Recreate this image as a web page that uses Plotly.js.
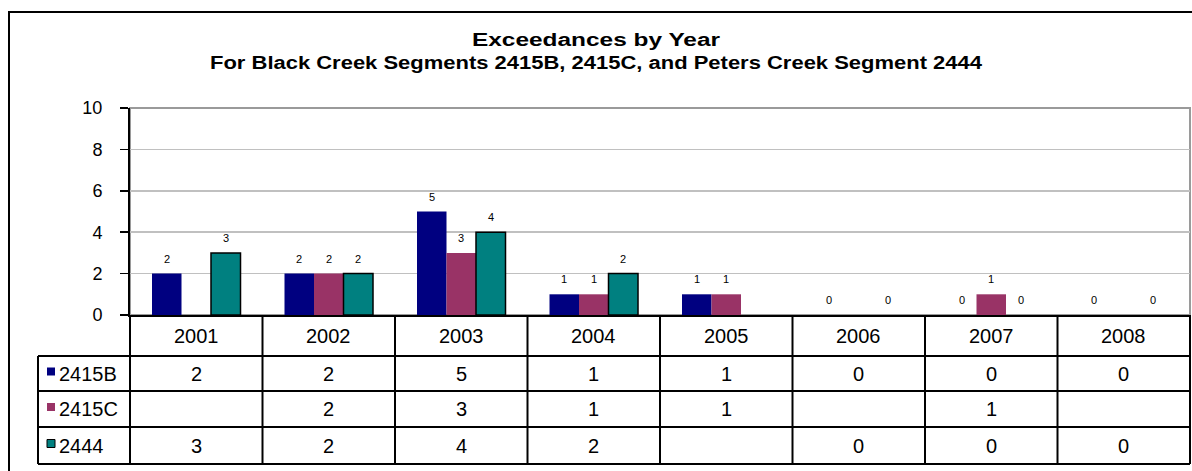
<!DOCTYPE html>
<html>
<head>
<meta charset="utf-8">
<script src="https://cdn.plot.ly/plotly-3.0.1.min.js"></script>
<style>html,body{margin:0;padding:0;background:#fff;}#chart{width:1192px;height:471px;}</style>
</head>
<body>
<div id="chart"></div>
<script>
// ---- data ----
var years = ["2001", "2002", "2003", "2004", "2005", "2006", "2007", "2008"];
var seriesNames = ["2415B", "2415C", "2444"];
var s2415B = [2, 2, 5, 1, 1, 0, 0, 0];
var s2415C = [null, 2, 3, 1, 1, null, 1, null];
var s2444 = [3, 2, 4, 2, null, 0, 0, 0];
var titleLine1 = "Exceedances by Year";
var titleLine2 = "For Black Creek Segments 2415B, 2415C, and Peters Creek Segment 2444";

// ---- styling / layout ----
var colors = ["#000080", "#993366", "#008080"];
var lineW = [0, 0, 1.5];
var allSeries = [s2415B, s2415C, s2444];
var W = 1192, H = 471;
var mL = 130, mR = 2, mT = 108, mB = 156;
var plotH = H - mT - mB, plotW = W - mL - mR;
var FONT = "Liberation Sans, Arial, sans-serif";
var bargap = 0.332;
var titleWidths = [248, 772];

function py(p) { return (H - mB - p) / plotH; }   // pixel y -> paper y
function px(p) { return (p - mL) / plotW; }       // pixel x -> paper x

var traces = allSeries.map(function (vals, s) {
  return {
    type: "bar", name: seriesNames[s], x: years, y: vals,
    marker: { color: colors[s], line: { color: "#000",
      width: vals.map(function (v) { return v ? lineW[s] : 0; }) } },
    hoverinfo: "x+y+name", showlegend: false
  };
});

var shapes = [];
var annotations = [];

// plot-area grey border
shapes.push({ type: "rect", xref: "paper", yref: "paper", x0: 0, x1: 1, y0: 0, y1: 1,
  line: { color: "#9a9a9a", width: 2 }, layer: "below" });
// outer chart border
shapes.push({ type: "rect", xref: "paper", yref: "paper", x0: px(9), x1: px(1260), y0: py(12), y1: py(520),
  line: { color: "#000", width: 2 } });

// data labels
var w = (1 - bargap) / 3;
allSeries.forEach(function (vals, s) {
  vals.forEach(function (v, i) {
    if (v === null) return;
    annotations.push({ xref: "x", yref: "y", x: i + (s - 1) * w, y: v, text: String(v),
      showarrow: false, yanchor: "bottom", yshift: 7, font: { family: FONT, size: 11, color: "#000" } });
  });
});

// data table
var rowEdges = [315, 356, 391, 427, 464];
var tblLeft = 38;
var tl = { color: "#000", width: 2 };
for (var r = 1; r < rowEdges.length; r++) {
  shapes.push({ type: "line", xref: "paper", yref: "paper", x0: px(tblLeft), x1: 1, y0: py(rowEdges[r]), y1: py(rowEdges[r]), line: tl });
}
shapes.push({ type: "line", xref: "paper", yref: "paper", x0: px(tblLeft), x1: px(tblLeft), y0: py(rowEdges[1]), y1: py(rowEdges[4]), line: tl });
for (var k = 0; k <= years.length; k++) {
  shapes.push({ type: "line", xref: "paper", yref: "paper", x0: k / years.length, x1: k / years.length,
    y0: py(rowEdges[0]), y1: py(rowEdges[4]), line: tl });
}
var tfont = { family: FONT, size: 20, color: "#000" };
years.forEach(function (yr, i) {
  annotations.push({ xref: "x", yref: "paper", x: i, y: py((rowEdges[0] + rowEdges[1]) / 2), text: yr,
    showarrow: false, font: tfont, yanchor: "middle" });
});
allSeries.forEach(function (vals, s) {
  var ycPix = (rowEdges[s + 1] + rowEdges[s + 2]) / 2;
  var yc = py(ycPix);
  vals.forEach(function (v, i) {
    if (v === null) return;
    annotations.push({ xref: "x", yref: "paper", x: i, y: yc, text: String(v), showarrow: false, font: tfont, yanchor: "middle" });
  });
  annotations.push({ xref: "paper", yref: "paper", x: px(57), y: yc, text: seriesNames[s], showarrow: false,
    xanchor: "left", yanchor: "middle", font: tfont });
  shapes.push({ type: "rect", xref: "paper", yref: "paper", x0: px(47), x1: px(55), y0: py(ycPix - 6), y1: py(ycPix + 2),
    fillcolor: colors[s], line: { color: "#000", width: lineW[s] ? 1 : 0 } });
});

var layout = {
  width: W, height: H,
  margin: { l: mL, r: mR, t: mT, b: mB, pad: 0 },
  paper_bgcolor: "#fff", plot_bgcolor: "#fff",
  font: { family: FONT, color: "#000" },
  title: { text: "<b>" + titleLine1 + "<br>" + titleLine2 + "</b>", x: 0.5, xanchor: "center", xref: "container",
    y: 1 - 46 / H, yref: "container", yanchor: "middle", font: { family: FONT, size: 18, color: "#000" } },
  barmode: "group", bargap: bargap, bargroupgap: 0,
  xaxis: { type: "category", range: [-0.5, years.length - 0.5], showticklabels: false, ticks: "",
    showline: true, linecolor: "#000", linewidth: 2, showgrid: false, zeroline: false, fixedrange: true },
  yaxis: { range: [0, 10], dtick: 2, tick0: 0, ticks: "outside", ticklen: 8, tickwidth: 1.5, tickcolor: "#000",
    ticklabelstandoff: 14,
    showline: true, linecolor: "#000", linewidth: 2, showgrid: true, gridcolor: "#c0c0c0", gridwidth: 1.5,
    zeroline: false, tickfont: { family: FONT, size: 18, color: "#000" }, fixedrange: true },
  shapes: shapes, annotations: annotations, showlegend: false
};

Plotly.newPlot("chart", traces, layout, { displayModeBar: false, staticPlot: true }).then(function (gd) {
  // the reference title is drawn horizontally stretched; widen each line to match
  var lines = gd.querySelectorAll(".gtitle tspan.line");
  lines.forEach(function (t, i) {
    if (titleWidths[i]) {
      t.setAttribute("textLength", titleWidths[i]);
      t.setAttribute("lengthAdjust", "spacingAndGlyphs");
    }
  });
});
</script>
</body>
</html>
